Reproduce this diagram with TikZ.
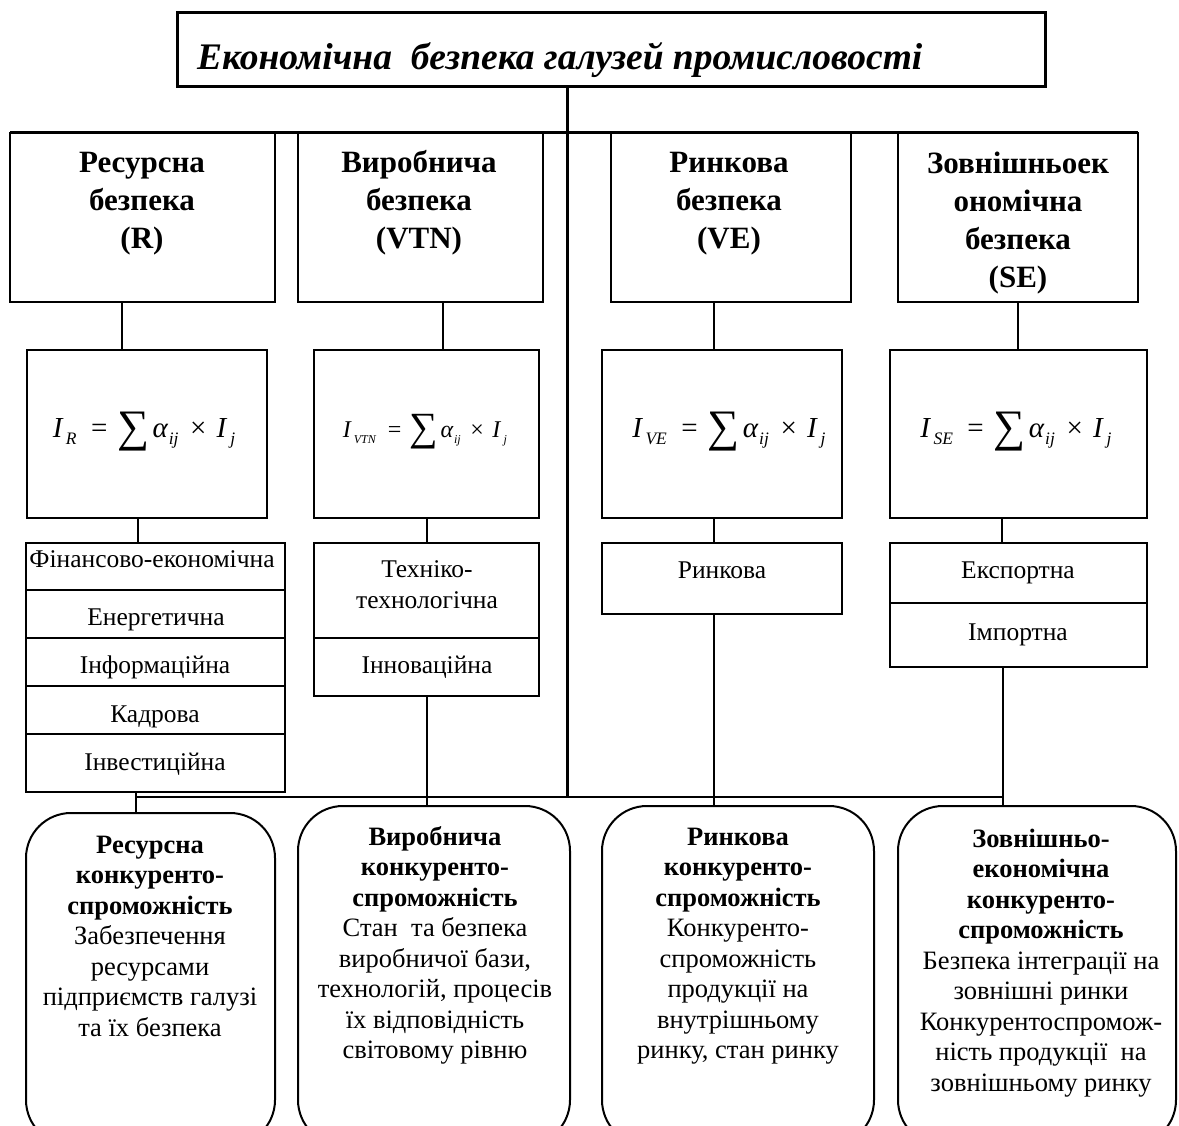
\documentclass[tikz,border=0pt]{standalone}
\usepackage{fontspec}
\setmainfont{Liberation Serif}
\usetikzlibrary{calc}
\newcommand{\fst}{\rule{0pt}{0.8em}}
% #1 main size, #2 sub size, #3 sum size, #4 subscript, #5 lowering
\newcommand{\fml}[5]{\fontsize{#1pt}{#1pt}\selectfont
 \textit{I}\kern0.08em\raisebox{-#5pt}{\fontsize{#2pt}{#2pt}\selectfont\itshape #4}%
 \hspace{0.5em}=\hspace{0.35em}%
 \raisebox{-0.15em}{\fontsize{#3pt}{#3pt}\selectfont ∑}\kern0.1em%
 \textit{α}\kern0.02em\raisebox{-#5pt}{\fontsize{#2pt}{#2pt}\selectfont\itshape ij}%
 \hspace{0.4em}×\hspace{0.35em}\textit{I}\kern0.1em\raisebox{-#5pt}{\fontsize{#2pt}{#2pt}\selectfont\itshape j}}
\newcommand{\mkbox}[6]{\node[#1, minimum width={(#5-#3)*1pt}, minimum height={(#6-#4)*1pt}] (#2) at (#3,#4) {};}
\begin{document}
\begin{tikzpicture}[x=1pt,y=-1pt,
  box/.style={draw, line width=1.6pt, inner sep=0pt, outer sep=0pt, anchor=north west},
  tbox/.style={box, line width=3pt},
  rbox/.style={box, line width=2pt, rounded corners=45pt},
  conn/.style={line width=1.6pt},
  trunk/.style={line width=3pt},
  lbl/.style={anchor=north, align=center, inner sep=0pt},
  hdfont/.style={font=\fontsize{31pt}{38pt}\selectfont\bfseries},
  subfont/.style={font=\fontsize{25.5pt}{31pt}\selectfont},
  rfont/.style={font=\fontsize{26.5pt}{30.5pt}\selectfont}]
\useasboundingbox (0,0) rectangle (1179,1126);
% title
\mkbox{tbox}{title}{177}{13}{1045}{87}
\node[anchor=base west, inner sep=0pt, font=\fontsize{37.5pt}{40pt}\selectfont\bfseries\itshape] (ttext) at (197,70) {Економічна\ \ безпека галузей промисловості};
% row 1
\mkbox{box}{rR}{10}{133}{275}{302}
\mkbox{box}{rV}{298}{133}{543}{302}
\mkbox{box}{rM}{611}{133}{851}{302}
\mkbox{box}{rS}{898}{133}{1138}{302}
\node[lbl, hdfont] (tR) at (142,148) {\fst Ресурсна\\безпека\\(R)};
\node[lbl, hdfont] (tV) at (419,148) {\fst Виробнича\\безпека\\(VTN)};
\node[lbl, hdfont] (tM) at (729,148) {\fst Ринкова\\безпека\\(VE)};
\node[lbl, hdfont] (tS) at (1018,148) {\fst Зовнішньоек\\ономічна\\безпека\\(SE)};
% row 2 formulas
\mkbox{box}{fR}{27}{350}{267}{518}
\mkbox{box}{fV}{314}{350}{539}{518}
\mkbox{box}{fM}{602}{350}{842}{518}
\mkbox{box}{fS}{890}{350}{1147}{518}
\node[anchor=base, inner sep=0pt] (qR) at (144,437) {\fml{29}{17.5}{45}{R}{7}};
\node[anchor=base, inner sep=0pt] (qV) at (425,437) {\fml{24}{12}{40}{VTN}{6}};
\node[anchor=base, inner sep=0pt] (qM) at (729,437) {\fml{29}{17.5}{45}{VE}{7}};
\node[anchor=base, inner sep=0pt] (qS) at (1016,437) {\fml{29}{17.5}{45}{SE}{7}};
% row 3 lists
\mkbox{box}{lR1}{26}{543}{285}{590}
\mkbox{box}{lR2}{26}{590}{285}{638}
\mkbox{box}{lR3}{26}{638}{285}{686}
\mkbox{box}{lR4}{26}{686}{285}{734}
\mkbox{box}{lR5}{26}{734}{285}{792}
\mkbox{box}{sV1}{314}{543}{539}{638}
\mkbox{box}{sV2}{314}{638}{539}{696}
\mkbox{box}{sM1}{602}{543}{842}{614}
\mkbox{box}{sS1}{890}{543}{1147}{603}
\mkbox{box}{sS2}{890}{603}{1147}{667}
\draw[line width=2.6pt] (sS1.south west) -- (sS1.south east);
\node[anchor=base, inner sep=0pt, subfont] (xR1) at (152,567) {Фінансово-економічна};
\node[anchor=base, inner sep=0pt, subfont] (xR2) at (156,625) {Енергетична};
\node[anchor=base, inner sep=0pt, subfont] (xR3) at (155,673) {Інформаційна};
\node[anchor=base, inner sep=0pt, subfont] (xR4) at (155,722) {Кадрова};
\node[anchor=base, inner sep=0pt, subfont] (xR5) at (155,770) {Інвестиційна};
\node[lbl, subfont] (xV1) at (427,557) {\fst Техніко-\\технологічна};
\node[anchor=base, inner sep=0pt, subfont] (xV2) at (427,673) {Інноваційна};
\node[anchor=base, inner sep=0pt, subfont] (xM1) at (722,578) {Ринкова};
\node[anchor=base, inner sep=0pt, subfont] (xS1) at (1018,578) {Експортна};
\node[anchor=base, inner sep=0pt, subfont] (xS2) at (1018,640) {Імпортна};
% bottom rounded boxes
\mkbox{rbox}{bR}{26}{813}{275}{1145}
\mkbox{rbox}{bV}{298}{806}{570}{1145}
\mkbox{rbox}{bM}{602}{806}{874}{1145}
\mkbox{rbox}{bS}{898}{806}{1176}{1145}
\node[lbl, rfont] (yR) at (150,832) {\fst\textbf{Ресурсна}\\\textbf{конкуренто-}\\\textbf{спроможність}\\Забезпечення\\ресурсами\\підприємств галузі\\та їх безпека};
\node[lbl, rfont] (yV) at (435,824) {\fst\textbf{Виробнича}\\\textbf{конкуренто-}\\\textbf{спроможність}\\Стан\ \ та безпека\\виробничої бази,\\технологій, процесів\\їх відповідність\\світовому рівню};
\node[lbl, rfont] (yM) at (738,824) {\fst\textbf{Ринкова}\\\textbf{конкуренто-}\\\textbf{спроможність}\\Конкуренто-\\спроможність\\продукції на\\внутрішньому\\ринку, стан ринку};
\node[lbl, rfont] (yS) at (1041,826) {\fst\textbf{Зовнішньо-}\\\textbf{економічна}\\\textbf{конкуренто-}\\\textbf{спроможність}\\Безпека інтеграції на\\зовнішні ринки\\Конкурентоспромож-\\ність продукції\ \ на\\зовнішньому ринку};
% connector x positions
\coordinate (c1) at (122,0);
\coordinate (c2) at (443,0);
\coordinate (c3) at (714,0);
\coordinate (c4) at (1018,0);
\coordinate (d1) at (138,0);
\coordinate (d2) at (427,0);
\coordinate (d4) at (1002,0);
\coordinate (e1) at (136,0);
\coordinate (e4) at (1003,0);
\coordinate (bus) at (0,797);
\coordinate (tk) at (567,0);
% thick top line and trunk
\draw[trunk] (rR.north west) -- (rS.north east);
\draw[trunk] (tk |- title.south) -- (tk |- bus);
% row1 -> formulas
\draw[conn] (c1 |- rR.south) -- (c1 |- fR.north);
\draw[conn] (c2 |- rV.south) -- (c2 |- fV.north);
\draw[conn] (c3 |- rM.south) -- (c3 |- fM.north);
\draw[conn] (c4 |- rS.south) -- (c4 |- fS.north);
% formulas -> lists
\draw[conn] (d1 |- fR.south) -- (d1 |- lR1.north);
\draw[conn] (d2 |- fV.south) -- (d2 |- sV1.north);
\draw[conn] (c3 |- fM.south) -- (c3 |- sM1.north);
\draw[conn] (d4 |- fS.south) -- (d4 |- sS1.north);
% lists -> bottom boxes
\draw[conn] (e1 |- lR5.south) -- (e1 |- bR.north);
\draw[conn] (d2 |- sV2.south) -- (d2 |- bV.north);
\draw[conn] (c3 |- sM1.south) -- (c3 |- bM.north);
\draw[conn] (e4 |- sS2.south) -- (e4 |- bS.north);
% bus
\draw[conn] (e1 |- bus) -- (e4 |- bus);
\end{tikzpicture}
\end{document}
